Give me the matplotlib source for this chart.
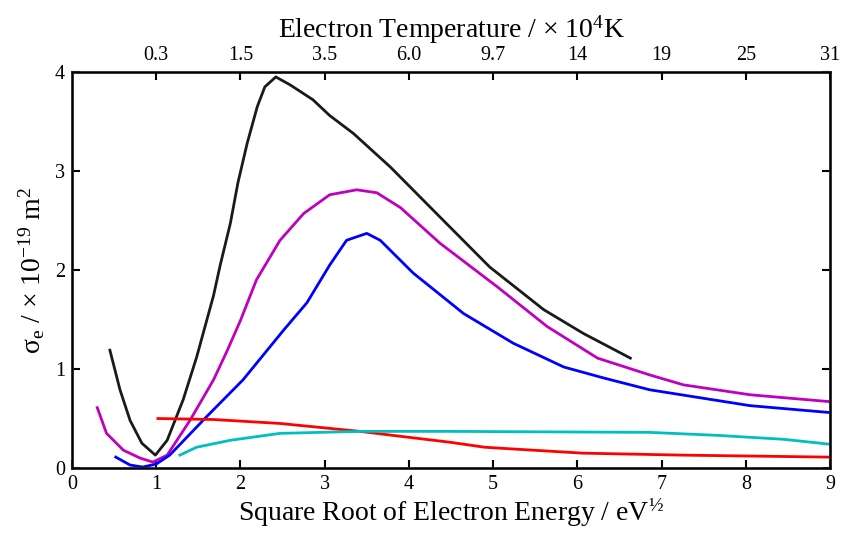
import matplotlib
matplotlib.use('Agg')
import matplotlib.pyplot as plt

plt.rcParams['font.family'] = ['Liberation Serif', 'DejaVu Serif']
plt.rcParams['mathtext.fontset'] = 'custom'
plt.rcParams['mathtext.rm'] = 'Liberation Serif'
plt.rcParams['mathtext.it'] = 'Liberation Serif:italic'

# curves (x = sqrt(E) / eV^0.5, y = sigma / 1e-19 m^2)
black_x = [0.45, 0.57, 0.69, 0.83, 0.99, 1.13, 1.32, 1.48, 1.68, 1.76, 1.88, 1.97,
           2.08, 2.20, 2.29, 2.42, 2.59, 2.86, 3.06, 3.34, 3.78, 4.41, 4.96, 5.6,
           6.07, 6.63]
black_y = [1.19, 0.79, 0.48, 0.25, 0.13, 0.28, 0.69, 1.12, 1.74, 2.05, 2.47, 2.88,
           3.28, 3.65, 3.85, 3.95, 3.87, 3.72, 3.56, 3.38, 3.04, 2.50, 2.03, 1.60,
           1.36, 1.11]

mag_x = [0.30, 0.41, 0.61, 0.81, 0.96, 1.13, 1.40, 1.68, 1.84, 2.0, 2.19, 2.47,
         2.75, 3.06, 3.38, 3.62, 3.90, 4.37, 5.05, 5.64, 6.24, 6.86, 7.26, 8.05, 9.0]
mag_y = [0.61, 0.35, 0.18, 0.10, 0.06, 0.13, 0.48, 0.89, 1.18, 1.49, 1.90, 2.30,
         2.57, 2.76, 2.81, 2.78, 2.63, 2.27, 1.83, 1.43, 1.11, 0.94, 0.84, 0.74, 0.67]

blue_x = [0.52, 0.69, 0.84, 1.0, 1.16, 1.6, 2.03, 2.51, 2.79, 3.06, 3.26, 3.50, 3.66,
          4.05, 4.65, 5.24, 5.84, 6.31, 6.86, 8.05, 9.0]
blue_y = [0.11, 0.03, 0.01, 0.04, 0.13, 0.52, 0.89, 1.39, 1.67, 2.05, 2.30, 2.37,
          2.30, 1.97, 1.56, 1.26, 1.02, 0.91, 0.79, 0.63, 0.56]

red_x = [1.02, 1.68, 2.47, 3.42, 4.0, 4.49, 4.9, 5.28, 6.07, 7.26, 9.0]
red_y = [0.50, 0.49, 0.45, 0.37, 0.31, 0.26, 0.21, 0.19, 0.15, 0.13, 0.11]

cyan_x = [1.28, 1.48, 1.88, 2.47, 3.42, 4.49, 6.86, 7.66, 8.45, 9.0]
cyan_y = [0.13, 0.21, 0.28, 0.35, 0.37, 0.37, 0.36, 0.33, 0.29, 0.24]

top_pos = [1, 2, 3, 4, 5, 6, 7, 8, 9]
top_labels = ['0.3', '1.5', '3.5', '6.0', '9.7', '14', '19', '25', '31']

fig = plt.figure(figsize=(8.44, 5.4), dpi=100)
ax = fig.add_axes([0.0853, 0.1333, 0.8981, 0.7334])

lw = 2.0
ax.plot(black_x, black_y, color='#1a1a1a', lw=lw)
ax.plot(mag_x, mag_y, color='#bf00bf', lw=lw)
ax.plot(blue_x, blue_y, color='#0000ff', lw=lw)
ax.plot(red_x, red_y, color='#ff0000', lw=lw)
ax.plot(cyan_x, cyan_y, color='#00bfbf', lw=lw)

ax.set_xlim(0, 9)
ax.set_ylim(0, 4)
ax.set_xticks(range(0, 10))
ax.set_yticks(range(0, 5))
ax.tick_params(direction='in', length=6, width=1.5, labelsize=14.5, right=True,
               pad=5)
for s in ax.spines.values():
    s.set_linewidth(2.0)
    s.set_color('#222222')

ax.set_xlabel('Square Root of Electron Energy / eV$^{½}$', fontsize=20, labelpad=2)
ax.set_ylabel('σ$_{\\rm e}$ / × 10$^{-19}$ m$^2$', fontsize=20, labelpad=6)

ax2 = ax.twiny()
ax2.set_xlim(0, 9)
ax2.set_xticks(top_pos)
ax2.set_xticklabels(top_labels)
ax2.tick_params(direction='in', length=6, width=1.5, labelsize=14.5, pad=5)
ax2.set_xlabel('Electron Temperature / × 10$^4$K', fontsize=20, labelpad=6)

fig.savefig('out.png', dpi=100)
